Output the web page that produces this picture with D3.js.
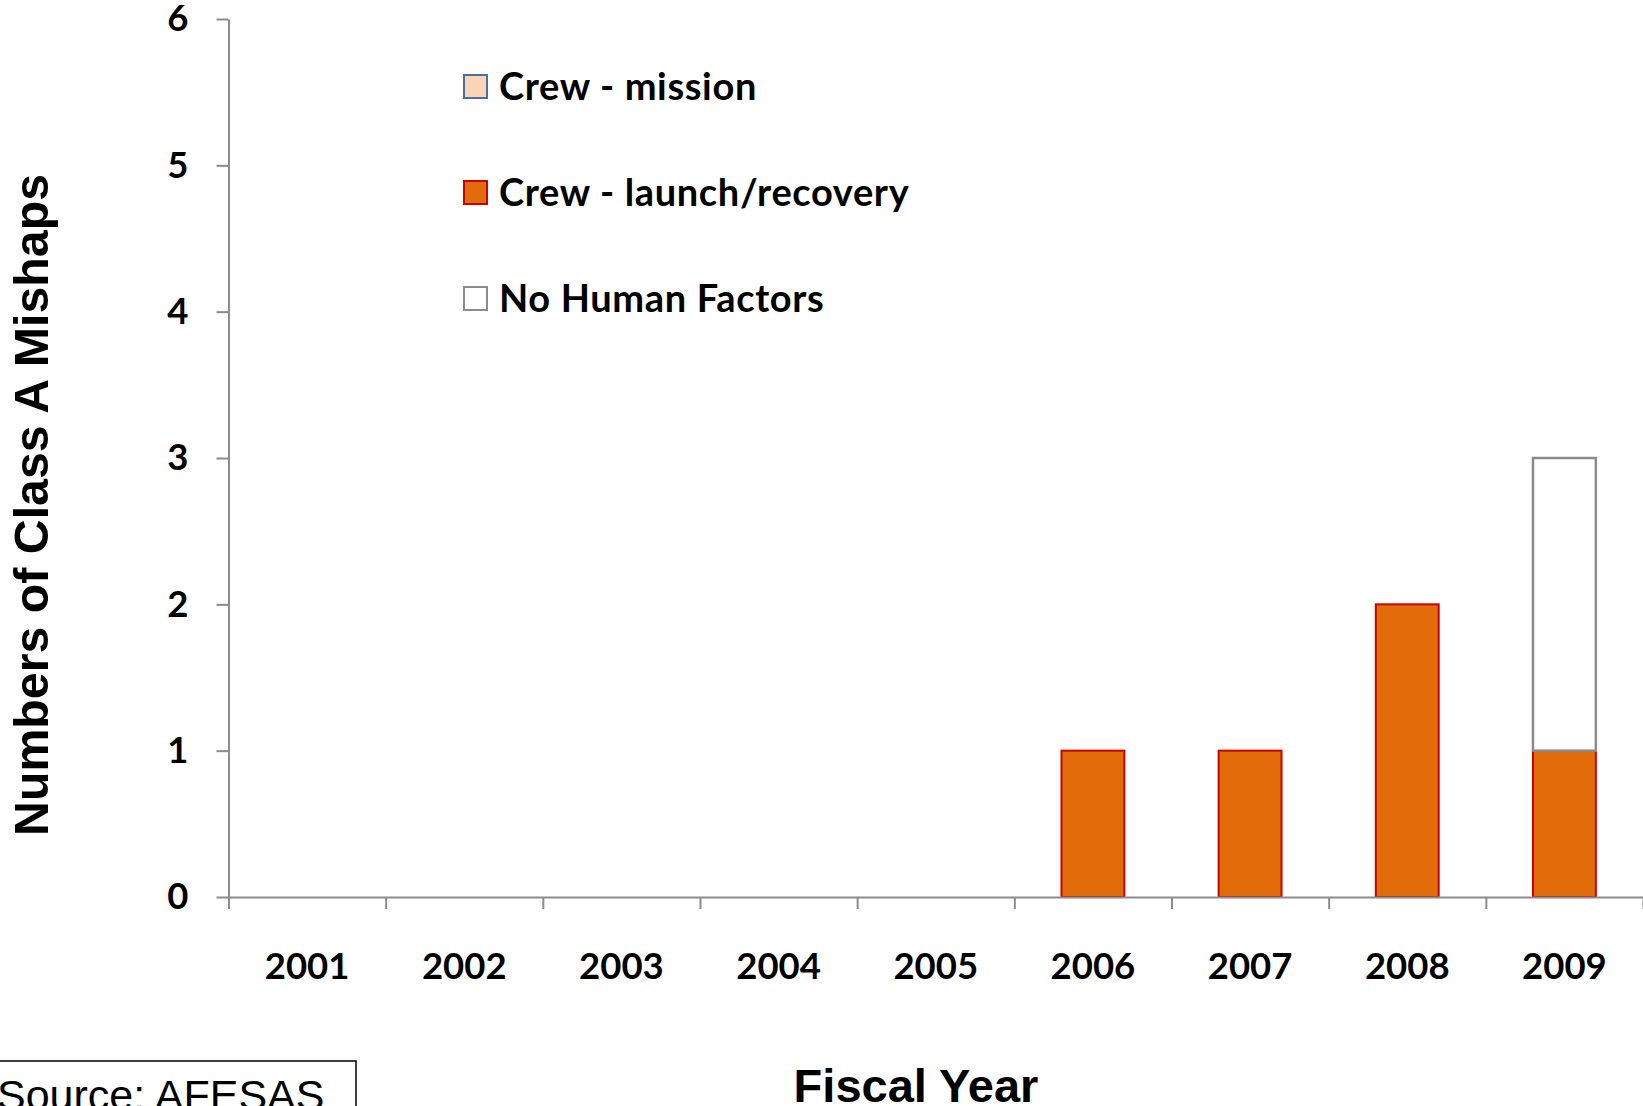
<!DOCTYPE html>
<html>
<head>
<meta charset="utf-8">
<script src="https://cdn.jsdelivr.net/npm/d3@7"></script>
<style>
  html, body { margin: 0; padding: 0; background: #fff; }
  svg { display: block; }
</style>
</head>
<body>
<svg id="chart" width="1643" height="1106"></svg>
<script>
// Class A mishaps per fiscal year, by cause
const years = ["2001", "2002", "2003", "2004", "2005", "2006", "2007", "2008", "2009"];
const crewMission = [0, 0, 0, 0, 0, 0, 0, 0, 0];
const crewLaunch  = [0, 0, 0, 0, 0, 1, 1, 2, 1];
const noHuman     = [0, 0, 0, 0, 0, 0, 0, 0, 2];
const yTicks = [0, 1, 2, 3, 4, 5, 6];

const seriesKeys   = ["crewMission", "crewLaunch", "noHuman"];
const seriesLabels = ["Crew - mission", "Crew - launch/recovery", "No Human Factors"];
const seriesFill   = { crewMission: "#FBD5B5", crewLaunch: "#E36C0A", noHuman: "#FFFFFF" };
const seriesStroke = { crewMission: "#4A6FA5", crewLaunch: "#CC0000", noHuman: "#8C8C8C" };

const rows = years.map((yr, i) => ({
  year: yr,
  crewMission: crewMission[i],
  crewLaunch: crewLaunch[i],
  noHuman: noHuman[i]
}));

const svg = d3.select("#chart");
const plotLeft = 228.5, plotTop = 19, plotBottom = 897, plotRight = 1643;

const x = d3.scaleBand().domain(years).range([plotLeft, plotRight]).paddingInner(0.6).paddingOuter(0.3);
const xEdge = d3.scaleLinear().domain([0, years.length]).range([plotLeft, plotRight]);
const y = d3.scaleLinear().domain([0, 6]).range([plotBottom, plotTop]);

const tickFont = "Lato, 'Open Sans', sans-serif";
const axisColor = "#8C8C8C";

// stacked bars
const stacked = d3.stack().keys(["crewLaunch", "crewMission", "noHuman"])(rows);
const layers = svg.append("g").attr("class", "bars");
stacked.forEach(layer => {
  const key = layer.key;
  layers.append("g")
    .selectAll("rect")
    .data(layer.filter(d => d[1] - d[0] > 0))
    .join("rect")
    .attr("x", d => x(d.data.year))
    .attr("width", x.bandwidth())
    .attr("y", d => y(d[1]))
    .attr("height", d => y(d[0]) - y(d[1]))
    .attr("fill", seriesFill[key])
    .attr("stroke", seriesStroke[key])
    .attr("stroke-width", key === "noHuman" ? 2.5 : 2);
});

// y axis
const yAxis = svg.append("g")
  .attr("transform", `translate(${plotLeft},0)`)
  .call(d3.axisLeft(y).tickValues(yTicks).tickFormat(d3.format("d")).tickSize(12).tickSizeOuter(0).tickPadding(28));
yAxis.selectAll("path, line").attr("stroke", axisColor).attr("stroke-width", 2);
yAxis.selectAll("text")
  .attr("font-family", tickFont).attr("font-weight", 700).attr("font-size", 36.5).attr("fill", "#000");

// x axis: tick marks sit on the category boundaries
const xAxis = svg.append("g")
  .attr("transform", `translate(0,${plotBottom})`)
  .call(d3.axisBottom(xEdge).tickValues(d3.range(0, years.length + 1)).tickFormat("").tickSize(12).tickSizeOuter(0));
xAxis.selectAll("path, line").attr("stroke", axisColor).attr("stroke-width", 2);

// year labels centred in each category
const xLabels = svg.append("g")
  .attr("transform", `translate(0,${plotBottom})`)
  .call(d3.axisBottom(x).tickSize(0).tickPadding(56));
xLabels.select(".domain").remove();
xLabels.selectAll("text")
  .attr("font-family", tickFont).attr("font-weight", 700).attr("font-size", 36.5).attr("fill", "#000");

// legend
const legend = svg.append("g").attr("transform", "translate(464,75)");
seriesKeys.forEach((k, i) => {
  const g = legend.append("g").attr("transform", `translate(0,${i * 106})`);
  g.append("rect").attr("x", 0).attr("y", 0).attr("width", 23).attr("height", 23)
    .attr("fill", seriesFill[k]).attr("stroke", seriesStroke[k]).attr("stroke-width", 2);
  g.append("text").attr("x", 35).attr("y", 12).attr("dy", "0.34em")
    .attr("font-family", tickFont).attr("font-weight", 700).attr("font-size", 38)
    .attr("letter-spacing", 0.65).attr("fill", "#000")
    .text(seriesLabels[i]);
});

// axis titles
svg.append("text")
  .attr("transform", `translate(48,505) rotate(-90)`)
  .attr("text-anchor", "middle")
  .attr("font-family", "'Liberation Sans', Arial, sans-serif").attr("font-weight", 700).attr("font-size", 48.3)
  .attr("fill", "#000")
  .text("Numbers of Class A Mishaps");

svg.append("text")
  .attr("x", 916).attr("y", 1102)
  .attr("text-anchor", "middle")
  .attr("font-family", "'Liberation Sans', Arial, sans-serif").attr("font-weight", 700).attr("font-size", 47)
  .attr("fill", "#000")
  .text("Fiscal Year");

// source note
svg.append("rect")
  .attr("x", -2).attr("y", 1061).attr("width", 358).attr("height", 60)
  .attr("fill", "none").attr("stroke", "#000").attr("stroke-width", 1.5);
svg.append("text")
  .attr("x", -3).attr("y", 1110)
  .attr("font-family", "'Liberation Sans', Arial, sans-serif").attr("font-size", 43)
  .attr("fill", "#000")
  .text("Source: AFESAS");
</script>
</body>
</html>
